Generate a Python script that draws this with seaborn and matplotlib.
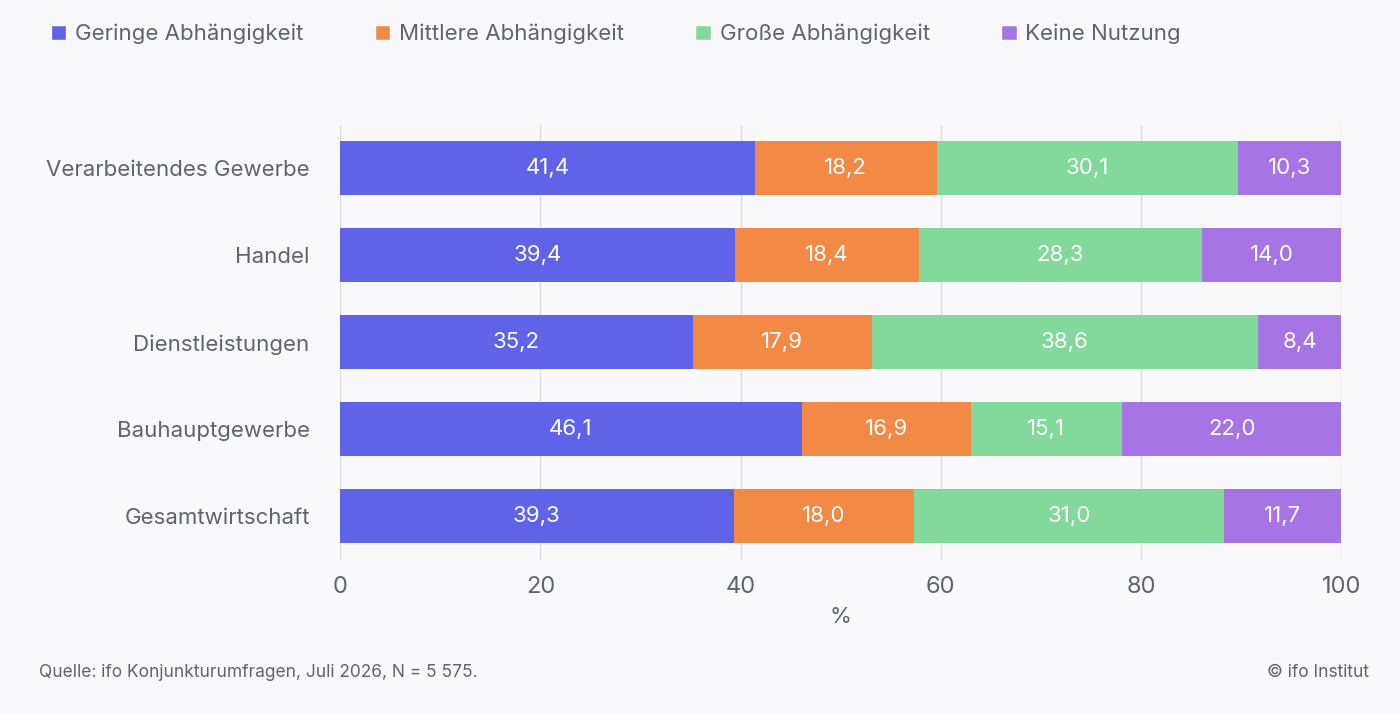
import numpy as np
import pandas as pd
import matplotlib
matplotlib.use("Agg")
import matplotlib.pyplot as plt
from matplotlib.patches import Patch
import seaborn as sns

branches = ["Verarbeitendes Gewerbe", "Handel", "Dienstleistungen", "Bauhauptgewerbe", "Gesamtwirtschaft"]
series = ["Geringe Abhängigkeit", "Mittlere Abhängigkeit", "Große Abhängigkeit", "Keine Nutzung"]
geringe = [41.4, 39.4, 35.2, 46.1, 39.3]
mittlere = [18.2, 18.4, 17.9, 16.9, 18.0]
grosse = [30.1, 28.3, 38.6, 15.1, 31.0]
keine = [10.3, 14.0, 8.4, 22.0, 11.7]
colors = ["#5f63e8", "#f28a46", "#83d99b", "#a674e4"]

bg = "#f9f9fc"
txt = "#5f6370"
sns.set_theme(style="white")
plt.rcParams["font.family"] = ["Inter", "DejaVu Sans"]

vals = np.array([geringe, mittlere, grosse, keine])
cum = vals.cumsum(axis=0)

fig = plt.figure(figsize=(14, 7.14), dpi=100, facecolor=bg)
ax = fig.add_axes([0.243, 0.216, 0.715, 0.609], facecolor=bg)

for i in range(3, -1, -1):
    df = pd.DataFrame({"branch": branches, "value": cum[i]})
    sns.barplot(data=df, x="value", y="branch", color=colors[i], width=0.62,
                saturation=1, ax=ax, zorder=3, linewidth=0)

for i in range(4):
    for j, b in enumerate(branches):
        center = cum[i][j] - vals[i][j] / 2
        ax.text(center, j, f"{vals[i][j]:.1f}".replace(".", ","), ha="center", va="center",
                color="white", fontsize=16, zorder=5)

ax.set_xlim(0, 100)
ax.set_ylim(4.5, -0.5)
ax.set_xticks([0, 20, 40, 60, 80, 100])
ax.grid(axis="x", color="#dcdce2", linewidth=1, zorder=0)
ax.set_axisbelow(True)
for s in ax.spines.values():
    s.set_visible(False)
ax.tick_params(axis="x", labelsize=17, colors=txt, length=0, pad=12)
ax.tick_params(axis="y", labelsize=16, colors=txt, length=0, pad=22)
ax.set_ylabel("")
ax.set_xlabel("%", fontsize=16, color=txt, labelpad=6)

handles = [Patch(facecolor=c, label=s) for c, s in zip(colors, series)]
fig.legend(handles=handles, loc="upper left", bbox_to_anchor=(0.022, 0.995), ncol=4,
           frameon=False, fontsize=16, labelcolor=txt, handlelength=0.7, handleheight=0.7,
           handletextpad=0.4, columnspacing=3.2)

fig.text(0.028, 0.058, "Quelle: ifo Konjunkturumfragen, Juli 2026, N = 5 575.", fontsize=12.5, color=txt, va="center")
fig.text(0.978, 0.058, "© ifo Institut", fontsize=12.5, color=txt, va="center", ha="right")

fig.savefig("out.png", dpi=100, facecolor=bg)
